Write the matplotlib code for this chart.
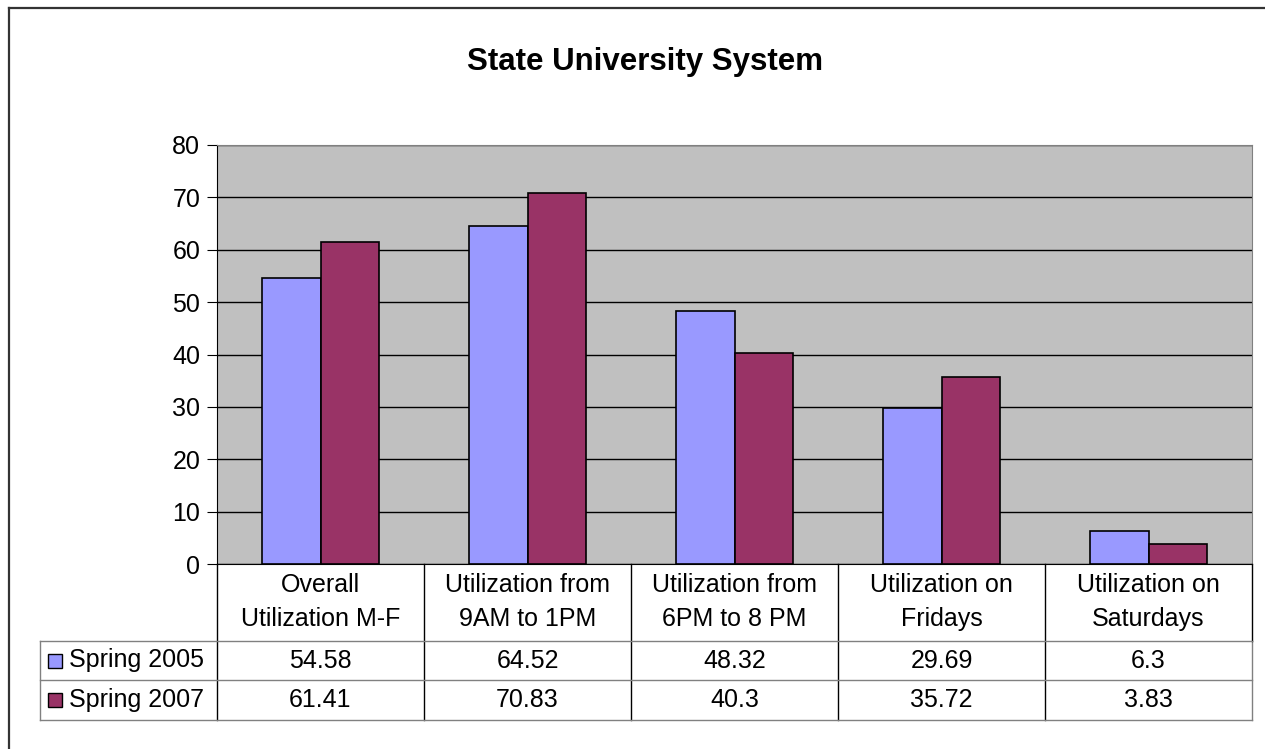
import numpy as np
import matplotlib.pyplot as plt
from matplotlib.patches import Rectangle
from matplotlib.lines import Line2D

plt.rcParams['font.family'] = ['Liberation Sans', 'DejaVu Sans']

CATEGORIES = [
    "Overall\nUtilization M-F",
    "Utilization from\n9AM to 1PM",
    "Utilization from\n6PM to 8 PM",
    "Utilization on\nFridays",
    "Utilization on\nSaturdays",
]
SERIES_NAMES = ["Spring 2005", "Spring 2007"]
SPRING_2005 = [54.58, 64.52, 48.32, 29.69, 6.3]
SPRING_2007 = [61.41, 70.83, 40.3, 35.72, 3.83]
COLORS = ["#9999FF", "#993366"]

W, H = 1265, 749
FS = 18
fig = plt.figure(figsize=(W / 100, H / 100), dpi=100)

# pixel helpers
def fx(px):
    return px / W

def fy(py):
    return 1 - py / H

def seg(x0, y0, x1, y1, color="black", lw=1.0):
    fig.add_artist(Line2D([fx(x0), fx(x1)], [fy(y0), fy(y1)], transform=fig.transFigure,
                          color=color, lw=lw))

# chart border (only left and top edges fall inside the image)
seg(9, 8, 1265, 8, color="#333333", lw=1.6)
seg(9, 8, 9, 749, color="#333333", lw=1.6)

left, right, top, bottom = 217, 1252, 145, 564
ax = fig.add_axes([fx(left), fy(bottom), fx(right) - fx(left), fy(top) - fy(bottom)])
ax.set_facecolor("#C0C0C0")

x = np.arange(len(CATEGORIES))
bw = 0.285
ax.bar(x - bw / 2, SPRING_2005, bw, color=COLORS[0], edgecolor="black", lw=1.2, zorder=3)
ax.bar(x + bw / 2, SPRING_2007, bw, color=COLORS[1], edgecolor="black", lw=1.2, zorder=3)

ax.set_xlim(-0.5, len(CATEGORIES) - 0.5)
ax.set_ylim(0, 80)
ax.set_yticks(range(0, 81, 10))
ax.yaxis.grid(True, color="black", lw=1, zorder=1)
ax.set_xticks([])
ax.tick_params(axis="y", labelsize=FS, length=7, direction="out", pad=5)
for s in ["top", "right"]:
    ax.spines[s].set_color("#808080")
ax.spines["left"].set_color("black")
ax.spines["bottom"].set_color("black")

fig.text(fx(645), fy(62), "State University System", ha="center", va="center",
         fontsize=22.5, fontweight="bold")

# data table below the plot
row_y = [564, 641, 680, 720]
tleft = 40
col_x = [left + (right - left) * i / len(CATEGORIES) for i in range(len(CATEGORIES) + 1)]
for cx in col_x[:-1]:
    seg(cx, 564, cx, 720)
seg(col_x[-1], 641, col_x[-1], 720, color="#808080")
seg(col_x[-1], 564, col_x[-1], 641)
seg(tleft, 641, tleft, 720, color="#808080")
for ry in row_y[1:]:
    seg(tleft, ry, right, ry, color="#808080")

for i, cat in enumerate(CATEGORIES):
    cx = (col_x[i] + col_x[i + 1]) / 2
    fig.text(fx(cx), fy(602), cat, ha="center", va="center", fontsize=FS, linespacing=1.55)
    fig.text(fx(cx), fy(661), f"{SPRING_2005[i]:g}", ha="center", va="center", fontsize=FS)
    fig.text(fx(cx), fy(700), f"{SPRING_2007[i]:g}", ha="center", va="center", fontsize=FS)

for j, name in enumerate(SERIES_NAMES):
    cy = (row_y[j + 1] + row_y[j + 2]) / 2
    fig.add_artist(Rectangle((fx(48), fy(cy + 7)), fx(14), fy(0) - fy(14),
                             transform=fig.transFigure, fc=COLORS[j], ec="black", lw=1))
    fig.text(fx(69), fy(cy), name, ha="left", va="center", fontsize=FS)

fig.savefig("out.png", dpi=100)
